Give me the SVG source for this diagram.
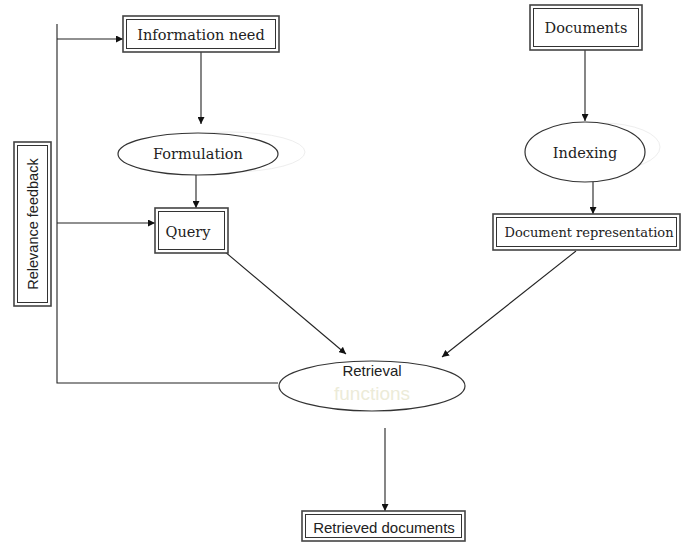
<svg xmlns="http://www.w3.org/2000/svg" width="683" height="546" viewBox="0 0 683 546">
<defs>
<marker id="ah" viewBox="0 0 10 10" refX="10" refY="5" markerWidth="7" markerHeight="7" orient="auto" markerUnits="userSpaceOnUse"><path d="M0,0 L10,5 L0,10 z" fill="#111"/></marker>
</defs>
<style>
.o{fill:#fff;stroke:#444;stroke-width:1.6}
.i{fill:none;stroke:#333;stroke-width:1}
.e{fill:#fff;stroke:#333;stroke-width:1.2}
.c{fill:none;stroke:#222;stroke-width:1.1}
.s{font-family:"DejaVu Serif","Liberation Serif",serif;font-size:14.5px;fill:#222;text-anchor:middle;dominant-baseline:central}
.n{font-family:"Liberation Sans","Open Sans",sans-serif;font-size:15px;fill:#222;text-anchor:middle;dominant-baseline:central}
</style>
<rect width="683" height="546" fill="#fff"/>
<g id="connectors">
<polyline class="c" points="57,24 57,383 278,383"/>
<line class="c" x1="57" y1="39" x2="123" y2="39" marker-end="url(#ah)"/>
<line class="c" x1="57" y1="223" x2="155" y2="223" marker-end="url(#ah)"/>
<line class="c" x1="201" y1="52" x2="201" y2="124" marker-end="url(#ah)"/>
<line class="c" x1="196" y1="175" x2="196" y2="208" marker-end="url(#ah)"/>
<line class="c" x1="585" y1="50" x2="585" y2="121" marker-end="url(#ah)"/>
<line class="c" x1="593" y1="182" x2="593" y2="214" marker-end="url(#ah)"/>
<line class="c" x1="224" y1="251" x2="346" y2="354" marker-end="url(#ah)"/>
<line class="c" x1="576" y1="251" x2="442" y2="357" marker-end="url(#ah)"/>
<line class="c" x1="385" y1="428" x2="385" y2="511" marker-end="url(#ah)"/>
</g>
<g id="information-need">
<rect class="o" x="123" y="16" width="156" height="36"/>
<rect class="i" x="126.5" y="19.5" width="149" height="29"/>
<text class="s" x="201" y="35">Information need</text>
</g>
<g id="documents">
<rect class="o" x="530" y="5" width="112" height="45"/>
<rect class="i" x="533.5" y="8.5" width="105" height="38"/>
<text class="s" x="586" y="28">Documents</text>
</g>
<g id="formulation">
<ellipse cx="230" cy="152" rx="75" ry="20" fill="none" stroke="#eee" stroke-width="1"/>
<ellipse class="e" cx="198" cy="154" rx="80" ry="21"/>
<text class="s" x="198" y="154">Formulation</text>
</g>
<g id="indexing">
<ellipse cx="602" cy="147" rx="58" ry="24" fill="none" stroke="#eee" stroke-width="1"/>
<ellipse class="e" cx="585" cy="152" rx="60" ry="30"/>
<text class="s" x="585" y="153">Indexing</text>
</g>
<g id="query">
<rect class="o" x="155" y="208" width="73" height="45"/>
<rect class="i" x="158.5" y="211.5" width="66" height="38"/>
<text class="s" x="188" y="232">Query</text>
</g>
<g id="document-representation">
<rect class="o" x="493" y="214" width="187" height="36"/>
<rect class="i" x="496.5" y="217.5" width="180" height="29"/>
<text class="s" x="589" y="232" style="font-size:13px">Document  representation</text>
</g>
<g id="relevance-feedback">
<rect class="o" x="14" y="142" width="37" height="164"/>
<rect class="i" x="17.5" y="145.5" width="30" height="157"/>
<text class="n" transform="translate(33,224) rotate(-90)" style="font-size:14.5px">Relevance feedback</text>
</g>
<g id="retrieval">
<ellipse class="e" cx="372" cy="386" rx="93" ry="25"/>
<text class="n" x="372" y="370">Retrieval</text>
<text class="n" x="372" y="393" style="font-size:19px;fill:#ecebd8">functions</text>
</g>
<g id="retrieved-documents">
<rect class="o" x="302" y="511" width="163" height="30"/>
<rect class="i" x="305.5" y="514.5" width="156" height="23"/>
<text class="n" x="384" y="527">Retrieved documents</text>
</g>
</svg>
